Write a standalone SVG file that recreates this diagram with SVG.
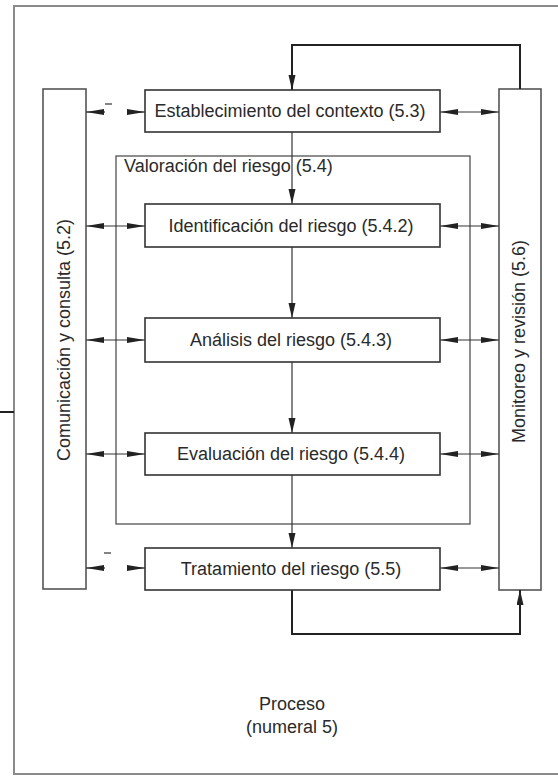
<svg xmlns="http://www.w3.org/2000/svg" width="558" height="776" viewBox="0 0 558 776">
<style>
  .box { fill: #ffffff; stroke: #333333; stroke-width: 1.6; }
  .side { fill: #ffffff; stroke: #555555; stroke-width: 1.6; }
  .group { fill: none; stroke: #444444; stroke-width: 1.2; }
  .lbl { font-family: "Liberation Sans", Arial, sans-serif; font-size: 18px; fill: #2a2a2a; }
  .mid { text-anchor: middle; }
  .conn { fill: none; stroke: #333333; stroke-width: 1.2; }
  .fb { fill: none; stroke: #222222; stroke-width: 2; }
</style>
<defs>
  <marker id="ah" markerUnits="userSpaceOnUse" markerWidth="20" markerHeight="8" refX="18" refY="3" orient="auto-start-reverse">
    <path d="M0,0 L18,3 L0,6 Z" fill="#222222"/>
  </marker>
  <marker id="av" markerUnits="userSpaceOnUse" markerWidth="16" markerHeight="8" refX="15" refY="3.5" orient="auto">
    <path d="M0,0 L15,3.5 L0,7 Z" fill="#222222"/>
  </marker>
</defs>

<g id="frame">
  <path d="M560,6 H14 V774 H560" fill="none" stroke="#8a8a8a" stroke-width="2"/>
  <line x1="0" y1="412" x2="14" y2="412" stroke="#222222" stroke-width="2"/>
</g>

<g id="valoracion">
  <rect class="group" x="116" y="156" width="354" height="368"/>
  <text class="lbl" x="124" y="172">Valoración del riesgo (5.4)</text>
</g>

<g id="comunicacion">
  <rect class="side" x="43" y="89" width="43" height="500"/>
  <text class="lbl mid" transform="translate(70,340) rotate(-90)">Comunicación y consulta (5.2)</text>
</g>

<g id="monitoreo">
  <rect class="side" x="499" y="89" width="42" height="501"/>
  <text class="lbl mid" transform="translate(525,341.5) rotate(-90)">Monitoreo y revisión (5.6)</text>
</g>

<g id="connectors">
  <!-- feedback loops -->
  <path class="fb" d="M520,89 V45 H292 V90" marker-end="url(#av)"/>
  <path class="fb" d="M292,590 V634 H520 V590" marker-end="url(#av)"/>
  <!-- vertical flow -->
  <line class="conn" x1="292" y1="132" x2="292" y2="204" marker-end="url(#av)"/>
  <line class="conn" x1="292" y1="247" x2="292" y2="318" marker-end="url(#av)"/>
  <line class="conn" x1="292" y1="362" x2="292" y2="433" marker-end="url(#av)"/>
  <line class="conn" x1="292" y1="475" x2="292" y2="548" marker-end="url(#av)"/>
  <!-- left side -->
  <line class="conn" x1="105" y1="112" x2="86" y2="112" marker-end="url(#ah)"/>
  <line class="conn" x1="105" y1="104" x2="112" y2="104"/>
  <line class="conn" x1="127" y1="112" x2="145" y2="112" marker-end="url(#ah)"/>
  <line class="conn" x1="86" y1="226" x2="145" y2="226" marker-start="url(#ah)" marker-end="url(#ah)"/>
  <line class="conn" x1="86" y1="340" x2="145" y2="340" marker-start="url(#ah)" marker-end="url(#ah)"/>
  <line class="conn" x1="86" y1="454" x2="145" y2="454" marker-start="url(#ah)" marker-end="url(#ah)"/>
  <line class="conn" x1="105" y1="568" x2="86" y2="568" marker-end="url(#ah)"/>
  <line class="conn" x1="104" y1="553" x2="111" y2="553"/>
  <line class="conn" x1="127" y1="568" x2="145" y2="568" marker-end="url(#ah)"/>
  <!-- right side -->
  <line class="conn" x1="440" y1="112" x2="499" y2="112" marker-start="url(#ah)" marker-end="url(#ah)"/>
  <line class="conn" x1="440" y1="226" x2="499" y2="226" marker-start="url(#ah)" marker-end="url(#ah)"/>
  <line class="conn" x1="440" y1="340" x2="499" y2="340" marker-start="url(#ah)" marker-end="url(#ah)"/>
  <line class="conn" x1="440" y1="454" x2="499" y2="454" marker-start="url(#ah)" marker-end="url(#ah)"/>
  <line class="conn" x1="440" y1="568" x2="499" y2="568" marker-start="url(#ah)" marker-end="url(#ah)"/>
</g>

<g id="contexto">
  <rect class="box" x="145" y="90" width="295" height="42"/>
  <text class="lbl mid" x="290" y="117">Establecimiento del contexto (5.3)</text>
</g>
<g id="identificacion">
  <rect class="box" x="145" y="204" width="295" height="43"/>
  <text class="lbl mid" x="291" y="232">Identificación del riesgo (5.4.2)</text>
</g>
<g id="analisis">
  <rect class="box" x="145" y="318" width="295" height="44"/>
  <text class="lbl mid" x="291" y="346">Análisis del riesgo (5.4.3)</text>
</g>
<g id="evaluacion">
  <rect class="box" x="145" y="433" width="295" height="42"/>
  <text class="lbl mid" x="291" y="460">Evaluación del riesgo (5.4.4)</text>
</g>
<g id="tratamiento">
  <rect class="box" x="145" y="548" width="295" height="42"/>
  <text class="lbl mid" x="291" y="575">Tratamiento del riesgo (5.5)</text>
</g>

<g id="proceso">
  <text class="lbl mid" x="292" y="710">Proceso</text>
  <text class="lbl mid" x="292" y="733">(numeral 5)</text>
</g>
</svg>
